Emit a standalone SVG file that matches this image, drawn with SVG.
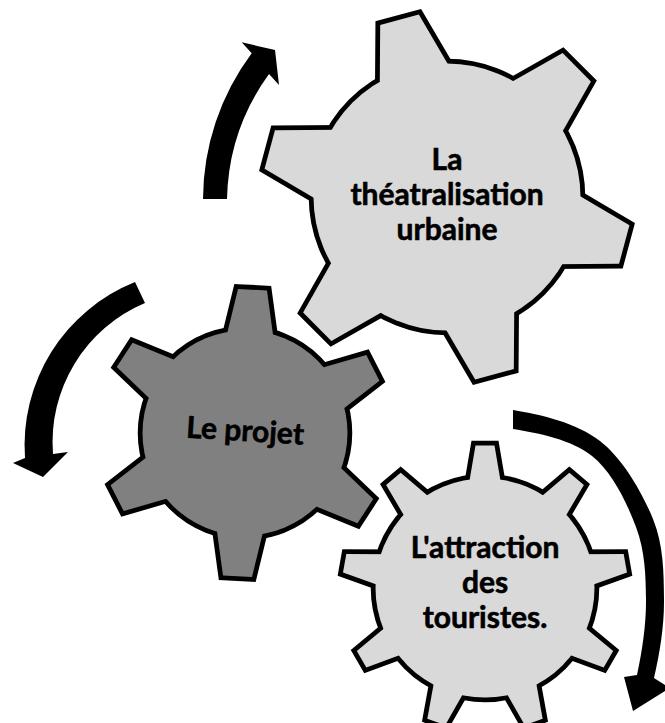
<svg xmlns="http://www.w3.org/2000/svg" xmlns:xlink="http://www.w3.org/1999/xlink" width="665" height="723" viewBox="0 0 665 723">
<style>
.bg{fill:#ffffff}
.ol{fill:#000;stroke:#000;stroke-width:9.5;stroke-linejoin:miter}
.light{fill:#D9D9D9}
.dark{fill:#808080}
.arrow{fill:#000;stroke:none}
.lbl{font-family:Lato,"Open Sans","Liberation Sans",sans-serif;font-weight:bold;font-size:30px;fill:#000;stroke:#000;stroke-width:0.6;text-anchor:middle}
</style>
<defs>
<polygon id="t1" points="-20,-183.5 20,-183.5 37.5,-120 -37.5,-120"/>
<polygon id="t2" points="-14.5,-143.5 14.5,-143.5 25.6,-85 -25.6,-85"/>
<polygon id="t3" points="-9.5,-142.5 9.5,-142.5 17.6,-95 -17.6,-95"/>
</defs>
<rect class="bg" x="0" y="0" width="665" height="723"/>
<g id="connectors">
<path class="arrow" d="M203,199 A245,245 0 0 1 251.7,53.3 L241.7,42.3 L275,50 L279,85 L269,74 A221,221 0 0 0 227,199 Z"/>
<path class="arrow" d="M135,282 A176,176 0 0 0 25,458 L13,463 L43,477 L68,452 L53,454 A151,151 0 0 1 145,303 Z"/>
<path class="arrow" d="M513,410 C541.3,414.7 576.7,422.8 600,441 C623.3,459.2 642.3,492.7 653,519 C663.7,545.3 663.8,573.7 664,600 C664.2,626.3 659.7,653 654,678 L670,688 L633,711 L624,677 L637,675 C642.2,650.8 646.2,624.7 646,600 C645.8,575.3 645,551 636,527 C627,503 612.5,472.3 592,456 C571.5,439.7 539.2,433.2 513,429 Z"/>
</g>
<g id="gear-theatralisation" transform="translate(447,197)">
<g class="ol">
<circle r="133.5"/>
<use xlink:href="#t1" transform="rotate(-15)"/><use xlink:href="#t1" transform="rotate(45)"/><use xlink:href="#t1" transform="rotate(105)"/>
<use xlink:href="#t1" transform="rotate(165)"/><use xlink:href="#t1" transform="rotate(225)"/><use xlink:href="#t1" transform="rotate(285)"/>
</g>
<g class="light">
<circle r="133.5"/>
<use xlink:href="#t1" transform="rotate(-15)"/><use xlink:href="#t1" transform="rotate(45)"/><use xlink:href="#t1" transform="rotate(105)"/>
<use xlink:href="#t1" transform="rotate(165)"/><use xlink:href="#t1" transform="rotate(225)"/><use xlink:href="#t1" transform="rotate(285)"/>
</g>
<text class="lbl" x="0" y="-27">La</text>
<text class="lbl" x="0" y="8">théatralisation</text>
<text class="lbl" x="0" y="43">urbaine</text>
</g>
<g id="gear-projet" transform="translate(245,433)">
<g class="ol">
<circle r="102.5"/>
<use xlink:href="#t2" transform="rotate(3)"/><use xlink:href="#t2" transform="rotate(63)"/><use xlink:href="#t2" transform="rotate(123)"/>
<use xlink:href="#t2" transform="rotate(183)"/><use xlink:href="#t2" transform="rotate(243)"/><use xlink:href="#t2" transform="rotate(303)"/>
</g>
<g class="dark">
<circle r="102.5"/>
<use xlink:href="#t2" transform="rotate(3)"/><use xlink:href="#t2" transform="rotate(63)"/><use xlink:href="#t2" transform="rotate(123)"/>
<use xlink:href="#t2" transform="rotate(183)"/><use xlink:href="#t2" transform="rotate(243)"/><use xlink:href="#t2" transform="rotate(303)"/>
</g>
<text class="lbl" x="0" y="8" transform="rotate(3.5)">Le projet</text>
</g>
<g id="gear-attraction" transform="translate(485,588)">
<g class="ol">
<circle r="109.5"/>
<use xlink:href="#t3"/><use xlink:href="#t3" transform="rotate(40)"/><use xlink:href="#t3" transform="rotate(80)"/>
<use xlink:href="#t3" transform="rotate(120)"/><use xlink:href="#t3" transform="rotate(160)"/><use xlink:href="#t3" transform="rotate(200)"/>
<use xlink:href="#t3" transform="rotate(240)"/><use xlink:href="#t3" transform="rotate(280)"/><use xlink:href="#t3" transform="rotate(320)"/>
</g>
<g class="light">
<circle r="109.5"/>
<use xlink:href="#t3"/><use xlink:href="#t3" transform="rotate(40)"/><use xlink:href="#t3" transform="rotate(80)"/>
<use xlink:href="#t3" transform="rotate(120)"/><use xlink:href="#t3" transform="rotate(160)"/><use xlink:href="#t3" transform="rotate(200)"/>
<use xlink:href="#t3" transform="rotate(240)"/><use xlink:href="#t3" transform="rotate(280)"/><use xlink:href="#t3" transform="rotate(320)"/>
</g>
<text class="lbl" x="0" y="-30">L'attraction</text>
<text class="lbl" x="0" y="5">des</text>
<text class="lbl" x="0" y="40">touristes.</text>
</g>
</svg>
